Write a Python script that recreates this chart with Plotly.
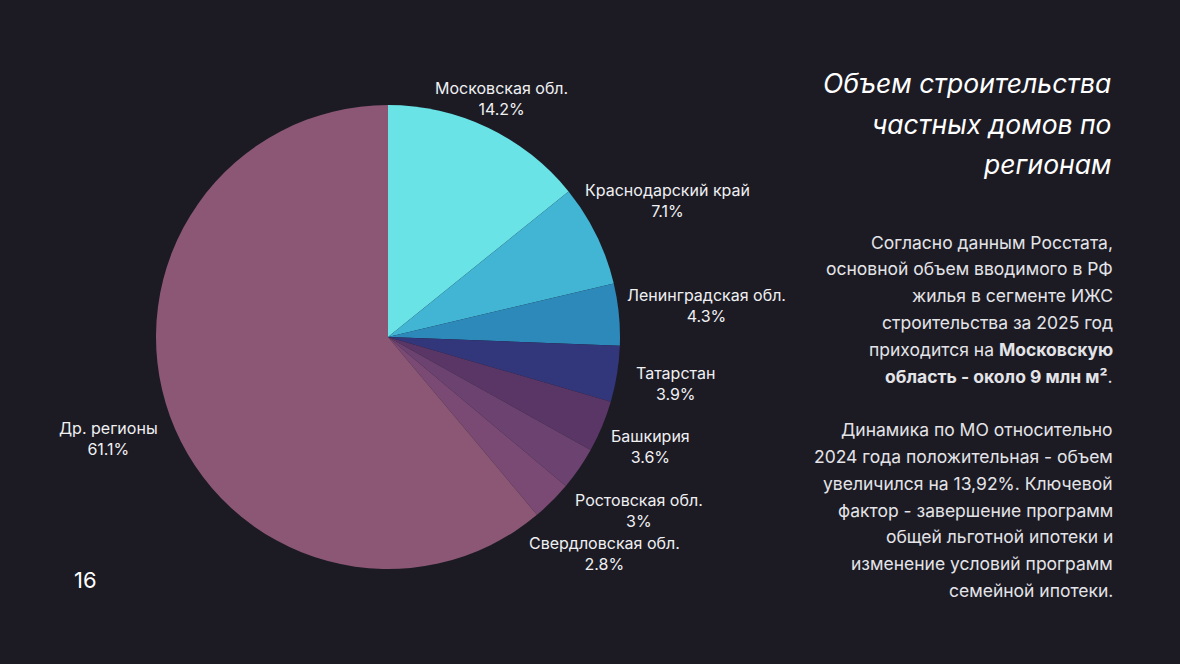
import math
import plotly.graph_objects as go

regions = ["Московская обл.", "Краснодарский край", "Ленинградская обл.", "Татарстан",
           "Башкирия", "Ростовская обл.", "Свердловская обл.", "Др. регионы"]
shares = [14.2, 7.1, 4.3, 3.9, 3.6, 3.0, 2.8, 61.1]
colors = ["#6ae3e6", "#41b5d3", "#2c89b9", "#32367a", "#5a3667", "#6c4370", "#7a4a75", "#8b5775"]

title_lines = ["Объем строительства", "частных домов по", "регионам"]
body_lines = [
    "Согласно данным Росстата,",
    "основной объем вводимого в РФ",
    "жилья в сегменте ИЖС",
    "строительства за 2025 год",
    "приходится на <b>Московскую</b>",
    "<b>область - около 9 млн м²</b>.",
    "",
    "Динамика по МО относительно",
    "2024 года положительная - объем",
    "увеличился на 13,92%. Ключевой",
    "фактор - завершение программ",
    "общей льготной ипотеки и",
    "изменение условий программ",
    "семейной ипотеки.",
]
page_number = "16"

# layout (pixels)
BG = "#1c1b24"
W, H = 1180, 664
FONT = "Inter"
CX, CY, R = 388, 337, 232
label_dist = [264, 311, 320, 291, 285, 305, 306, 297]  # distance of label centre from pie centre


def px(x):
    return x / W


def py(y):
    return 1 - y / H


fig = go.Figure(go.Pie(
    labels=regions,
    values=shares,
    textinfo="none",
    sort=False,
    direction="clockwise",
    rotation=0,
    marker=dict(colors=colors, line=dict(width=0)),
    automargin=False,
    showlegend=False,
    hoverinfo="label+percent",
    domain=dict(x=[px(CX - R), px(CX + R)], y=[py(CY + R), py(CY - R)]),
))

ann = []
# slice labels placed along each slice's mid-angle
total = sum(shares)
cum = 0.0
for name, v, d in zip(regions, shares, label_dist):
    mid = (cum + v / 2) / total * 2 * math.pi
    cum += v
    lx = CX + d * math.sin(mid)
    ly = CY - d * math.cos(mid)
    ann.append(dict(text=f"{name}<br>{v:g}%", x=px(lx), y=py(ly), xref="paper", yref="paper",
                    xanchor="center", yanchor="middle", align="center", showarrow=False,
                    font=dict(family=FONT, size=16, color="#f0f0f2")))

title_y = [83, 124, 164]
for t, yy in zip(title_lines, title_y):
    ann.append(dict(text=f"<i>{t}</i>", x=px(1113), y=py(yy), xref="paper", yref="paper",
                    xanchor="right", yanchor="middle", showarrow=False,
                    font=dict(family=FONT, size=26.5, color="#ffffff")))
for i, t in enumerate(body_lines):
    if not t:
        continue
    yy = 242 + i * 26.8
    ann.append(dict(text=t, x=px(1115), y=py(yy), xref="paper", yref="paper",
                    xanchor="right", yanchor="middle", showarrow=False,
                    font=dict(family=FONT, size=17.5, color="#e4e4e8")))
ann.append(dict(text=page_number, x=px(85), y=py(580), xref="paper", yref="paper",
                xanchor="center", yanchor="middle", showarrow=False,
                font=dict(family=FONT, size=22, color="#ffffff")))

fig.update_layout(
    width=W, height=H,
    paper_bgcolor=BG, plot_bgcolor=BG,
    margin=dict(l=0, r=0, t=0, b=0),
    annotations=ann,
)

fig.write_html("out.html", config={"displayModeBar": False},
               post_script="document.body.style.margin='0';document.body.style.background='%s';" % BG)
